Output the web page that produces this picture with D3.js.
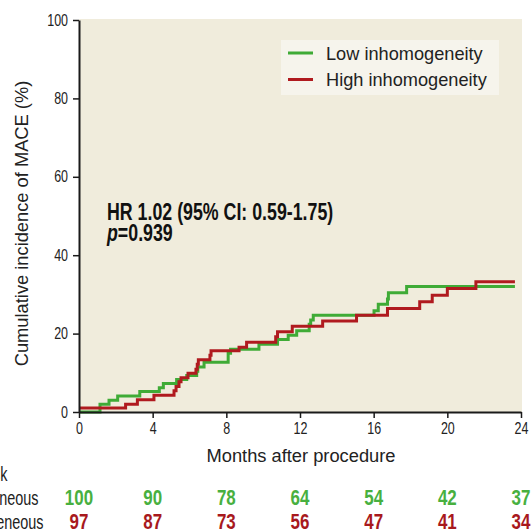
<!DOCTYPE html>
<html>
<head>
<meta charset="utf-8">
<script src="https://cdn.jsdelivr.net/npm/d3@7"></script>
<style>
  html, body { margin: 0; padding: 0; background: #fff; }
  svg { display: block; }
  text { font-family: "Liberation Sans", Arial, sans-serif; }
</style>
</head>
<body>
<div id="chart"></div>
<script>
const width = 532, height = 530;

// step curves: [month, cumulative incidence %]
const lowSteps = [
  [0, 0], [1.14, 2.0], [1.63, 3.0], [2.1, 4.1], [3.3, 5.2], [4.36, 6.2], [4.58, 7.3],
  [5.3, 8.3], [5.85, 9.3], [6.39, 10.4], [6.45, 11.5], [6.79, 12.7], [8.1, 15.0],
  [8.23, 16.0], [9.77, 17.3], [10.78, 18.5], [11.36, 19.6], [11.82, 20.7], [12.5, 22.4],
  [12.58, 23.5], [12.72, 24.7], [16.02, 25.8], [16.25, 27.5], [16.75, 28.8], [16.8, 30.4],
  [17.79, 32.0], [23.67, 32.0]
];
const highSteps = [
  [0, 1.0], [2.53, 2.0], [3.17, 3.1], [4.07, 4.3], [5.16, 5.4], [5.27, 6.5], [5.43, 7.7],
  [5.54, 8.75], [5.92, 9.9], [6.35, 10.9], [6.42, 12.2], [6.48, 13.3], [7.11, 14.5],
  [7.17, 15.6], [8.69, 16.5], [9.1, 17.8], [10.68, 19.2], [10.78, 20.5], [11.58, 21.9],
  [13.23, 23.2], [15.07, 24.7], [16.75, 26.4], [18.5, 28.1], [19.18, 29.8], [20.0, 31.5],
  [21.55, 33.2], [23.67, 33.2]
];

const xTicks = [0, 4, 8, 12, 16, 20, 24];
const yTicks = [0, 20, 40, 60, 80, 100];
const lowAtRisk = [100, 90, 78, 64, 54, 42, 37];
const highAtRisk = [97, 87, 73, 56, 47, 41, 34];
const seriesNames = ["Low inhomogeneity", "High inhomogeneity"];
const riskLabels = ["Number at risk", "Low inhomogeneous", "High inhomogeneous"];

const green = "#3fab36", red = "#b01a1f";
const greenText = "#48b03f", redText = "#a8191d";

const svg = d3.select("#chart").append("svg")
  .attr("width", width)
  .attr("height", height);

const x = d3.scaleLinear().domain([0, 24]).range([79, 521]);
const y = d3.scaleLinear().domain([0, 100]).range([412, 20]);

// no condensed font installed, so squeeze the regular one sideways
function narrow(g, px, py, sx, txt) {
  return g.append("text")
    .attr("transform", `translate(${px},${py}) scale(${sx},1)`)
    .text(txt);
}

// plot background
svg.append("rect")
  .attr("x", x(0)).attr("y", y(100) - 1)
  .attr("width", x(24) - x(0) + 1).attr("height", y(0) - y(100) + 1)
  .attr("fill", "#f0ecdc");

// legend
const legend = svg.append("g");
legend.append("rect")
  .attr("x", 281).attr("y", 40).attr("width", 218).attr("height", 55)
  .attr("fill", "#f6f4ec");
[green, red].forEach((c, i) => {
  const ly = 53 + i * 26.5;
  legend.append("line")
    .attr("x1", 288).attr("x2", 313).attr("y1", ly).attr("y2", ly)
    .attr("stroke", c).attr("stroke-width", 3);
  legend.append("text")
    .attr("x", 326).attr("y", ly + 6.5)
    .attr("font-size", 18.2)
    .attr("fill", "#222")
    .text(seriesNames[i]);
});

// curves
const line = d3.line()
  .x(d => x(d[0]))
  .y(d => y(d[1]))
  .curve(d3.curveStepAfter);

svg.append("path").datum(lowSteps)
  .attr("d", line).attr("fill", "none")
  .attr("stroke", green).attr("stroke-width", 3);
svg.append("path").datum(highSteps)
  .attr("d", line).attr("fill", "none")
  .attr("stroke", red).attr("stroke-width", 3);

// axes
const tickScale = 0.78;
const xAxis = svg.append("g")
  .attr("transform", `translate(0,${y(0)})`)
  .call(d3.axisBottom(x).tickValues(xTicks).tickSize(6).tickPadding(5).tickSizeOuter(0));
const yAxis = svg.append("g")
  .attr("transform", `translate(${x(0)},0)`)
  .call(d3.axisLeft(y).tickValues(yTicks).tickSize(6).tickPadding(5).tickSizeOuter(0));

[xAxis, yAxis].forEach(a => {
  a.select(".domain").attr("stroke", "#1a1a1a").attr("stroke-width", 2);
  a.selectAll(".tick line").attr("stroke", "#1a1a1a").attr("stroke-width", 1.5);
  a.selectAll(".tick text")
    .attr("font-size", 16)
    .attr("font-family", "'Liberation Sans', Arial, sans-serif")
    .attr("fill", "#222")
    .attr("transform", `scale(${tickScale},1)`);
});
yAxis.selectAll(".tick text").attr("x", -11 / tickScale);

// axis titles
svg.append("text")
  .attr("transform", `translate(27.5,${(y(0) + y(100)) / 2 + 7.5}) rotate(-90)`)
  .attr("text-anchor", "middle")
  .attr("font-size", 18.3)
  .attr("fill", "#222")
  .text("Cumulative incidence of MACE (%)");

svg.append("text")
  .attr("x", (x(0) + x(24)) / 2 + 1).attr("y", 461.5)
  .attr("text-anchor", "middle")
  .attr("font-size", 18.3)
  .attr("fill", "#222")
  .text("Months after procedure");

// hazard ratio annotation
narrow(svg, 107, 220, 0.773, "HR 1.02 (95% CI: 0.59-1.75)")
  .attr("font-size", 23).attr("font-weight", "bold").attr("fill", "#111");
const pText = narrow(svg, 107, 240.5, 0.773, "")
  .attr("font-size", 23).attr("font-weight", "bold").attr("fill", "#111");
pText.append("tspan").attr("font-style", "italic").text("p");
pText.append("tspan").text("=0.939");

// number at risk table
const rowY = [480.5, 505, 528.5];
const rowEnd = [7.5, 38.5, 43.5];
riskLabels.forEach((lab, i) => {
  narrow(svg, rowEnd[i], rowY[i], 0.74, lab)
    .attr("text-anchor", "end")
    .attr("font-size", 19.5)
    .attr("fill", "#222");
});

[[lowAtRisk, greenText], [highAtRisk, redText]].forEach(([vals, col], i) => {
  vals.forEach((v, j) => {
    narrow(svg, x(xTicks[j]), rowY[i + 1], 0.77, v)
      .attr("text-anchor", "middle")
      .attr("font-size", 22).attr("font-weight", "bold")
      .attr("fill", col);
  });
});
</script>
</body>
</html>
